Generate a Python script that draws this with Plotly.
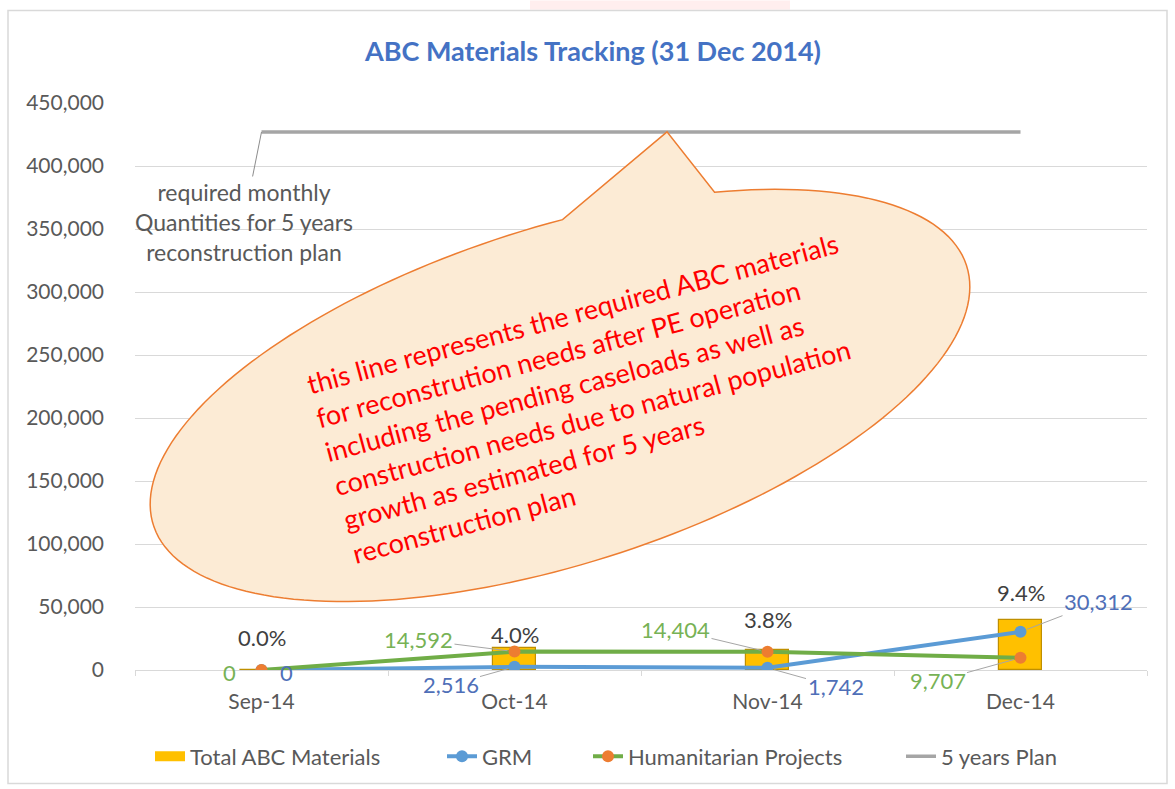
import numpy as np
import plotly.graph_objects as go

# ---------------- data ----------------
months = ["Sep-14", "Oct-14", "Nov-14", "Dec-14"]
grm = [0, 2516, 1742, 30312]
humanitarian = [0, 14592, 14404, 9707]
total_abc = [g + h for g, h in zip(grm, humanitarian)]
plan_monthly = [427000, 427000, 427000, 427000]
y_tick_values = list(range(0, 450001, 50000))

title_text = "ABC Materials Tracking (31 Dec 2014)"
plan_note = "required monthly<br>Quantities for 5 years<br>reconstruction plan"
callout_text = ("this line represents the required ABC materials<br>"
                "for reconstrution needs after PE operation<br>"
                "including the pending caseloads as well as<br>"
                "construction needs due to natural population<br>"
                "growth as estimated for 5 years<br>"
                "reconstruction plan")

# ---------------- layout geometry ----------------
W, H = 1175, 789
L, R, T, B = 135, 28, 103, 116
PW, PH = W - L - R, H - T - B


def px(X):
    return (X - L) / PW


def py(Y):
    return (H - B - Y) / PH


FONT = "Lato"
GRAY_TXT = "#595959"
BLUE = "#5B9BD5"
GREEN = "#70AD47"
ORANGE = "#ED7D31"
GOLD = "#FFC000"

fig = go.Figure()

fig.add_trace(go.Bar(
    x=months, y=total_abc, name="Total ABC Materials", width=0.17, showlegend=False,
    marker=dict(color=GOLD, line=dict(color="#BF8F00", width=1.2)),
))
# legend swatch for the bars (wide gold rectangle as in the original)
fig.add_trace(go.Scatter(
    x=[None], y=[None], name="Total ABC Materials", mode="lines",
    line=dict(color=GOLD, width=14), legend="legend",
))
fig.add_trace(go.Scatter(
    x=months, y=grm, name="GRM", mode="lines+markers", legend="legend2",
    line=dict(color=BLUE, width=4), marker=dict(color=BLUE, size=12),
))
fig.add_trace(go.Scatter(
    x=months, y=humanitarian, name="Humanitarian Projects", mode="lines+markers",
    legend="legend3",
    line=dict(color=GREEN, width=4), marker=dict(color=ORANGE, size=12),
))
fig.add_trace(go.Scatter(
    x=months, y=plan_monthly, name="5 years Plan", mode="lines", legend="legend4",
    line=dict(color="#A5A5A5", width=3.5),
))

annotations = []

# data labels with leader lines  (dx, dy in pixels, leader line?)
grm_offsets = [(25, 2, False), (-64, 18, True), (68, 19, True), (78, -30, True)]
hum_offsets = [(-32, 2, False), (-96, -12, True), (-92, -22, True), (-83, 23, True)]
for series, offsets, col in ((grm, grm_offsets, "#4F6FB8"), (humanitarian, hum_offsets, "#77B255")):
    for m, val, (dx, dy, arrow) in zip(months, series, offsets):
        a = dict(x=m, y=val, xref="x", yref="y", text=f"{val:,}",
                 font=dict(family=FONT, size=22, color=col))
        if arrow:
            a.update(showarrow=True, ax=dx, ay=dy, arrowhead=0, arrowwidth=1,
                     arrowcolor="#A6A6A6", standoff=7)
        else:
            a.update(showarrow=False, xshift=dx, yshift=-dy)
        annotations.append(a)

# percentage labels above bars
pct_shift = [33, 14, 30, 27]
for m, tot, pl, s in zip(months, total_abc, plan_monthly, pct_shift):
    annotations.append(dict(x=m, y=tot, xref="x", yref="y", text=f"{tot / pl * 100:.1f}%",
                            showarrow=False, yshift=s,
                            font=dict(family=FONT, size=22, color="#404040")))

# note on the plan line
annotations.append(dict(x=months[0], y=plan_monthly[0], xref="x", yref="y", text=plan_note,
                        showarrow=True, ax=-18, ay=90, arrowhead=0, arrowwidth=1,
                        arrowcolor="#8C8C8C", font=dict(family=FONT, size=23, color=GRAY_TXT)))

# callout text
annotations.append(dict(x=px(595), y=py(400), xref="paper", yref="paper", text=callout_text,
                        showarrow=False, textangle=-15, align="left",
                        font=dict(family=FONT, size=27, color="#FF0000")))

# ---------------- callout shape (ellipse with wedge) ----------------
cx, cy, ea, eb, th = 560, 397, 427, 169, np.radians(17.8)
u = np.array([np.cos(th), -np.sin(th)])
v = np.array([np.sin(th), np.cos(th)])
ts = np.linspace(np.radians(-60.6), np.radians(360 - 82.4), 180)
pts = [(cx + ea * np.cos(t) * u[0] + eb * np.sin(t) * v[0],
        cy + ea * np.cos(t) * u[1] + eb * np.sin(t) * v[1]) for t in ts]
tip = (667, 132)
path = "M " + " L ".join(f"{px(X):.5f},{py(Y):.5f}" for X, Y in pts) + \
       f" L {px(tip[0]):.5f},{py(tip[1]):.5f} Z"

shapes = [
    dict(type="path", path=path, xref="paper", yref="paper", layer="above",
         fillcolor="#FCEBD5", line=dict(color=ORANGE, width=1.5)),
    dict(type="rect", xref="paper", yref="paper", x0=px(8), x1=px(1167), y0=py(787), y1=py(10),
         line=dict(color="#D9D9D9", width=1.5), fillcolor="rgba(0,0,0,0)", layer="below"),
    dict(type="rect", xref="paper", yref="paper", x0=px(530), x1=px(790), y0=py(9), y1=py(0),
         line=dict(width=0), fillcolor="rgba(255,90,90,0.10)", layer="below"),
]

legend_font = dict(family=FONT, size=22, color=GRAY_TXT)
text_starts = [191, 483, 629, 942]
legends = {}
for i, ts_ in enumerate(text_starts):
    key = "legend" if i == 0 else f"legend{i + 1}"
    legends[key] = dict(orientation="h", x=px(ts_ - 41), xanchor="left", y=py(760),
                        yanchor="middle", font=legend_font, bgcolor="rgba(0,0,0,0)")

fig.update_layout(
    width=W, height=H,
    margin=dict(l=L, r=R, t=T, b=B),
    paper_bgcolor="white", plot_bgcolor="white",
    title=dict(text=f"<b>{title_text}</b>", x=593 / W, y=1 - 52 / H, xanchor="center",
               yanchor="middle", xref="container", yref="container",
               font=dict(family=FONT, size=27, color="#4472C4")),
    xaxis=dict(type="category", range=[-0.5, 3.5], showgrid=False, showline=True,
               linecolor="#D9D9D9", linewidth=1, ticks="outside", tickson="boundaries",
               ticklen=5, tickcolor="#D9D9D9", ticklabelstandoff=13,
               tickfont=dict(family=FONT, size=21, color=GRAY_TXT)),
    yaxis=dict(range=[0, 450000], tickvals=y_tick_values, tickformat=",d",
               showgrid=True, gridcolor="#D9D9D9", gridwidth=1, zeroline=False,
               showline=False, ticks="", ticklabelstandoff=30,
               tickfont=dict(family=FONT, size=21, color=GRAY_TXT)),
    showlegend=True,
    annotations=annotations,
    shapes=shapes,
    bargap=0,
    **legends,
)

fig.write_html("out.html")
